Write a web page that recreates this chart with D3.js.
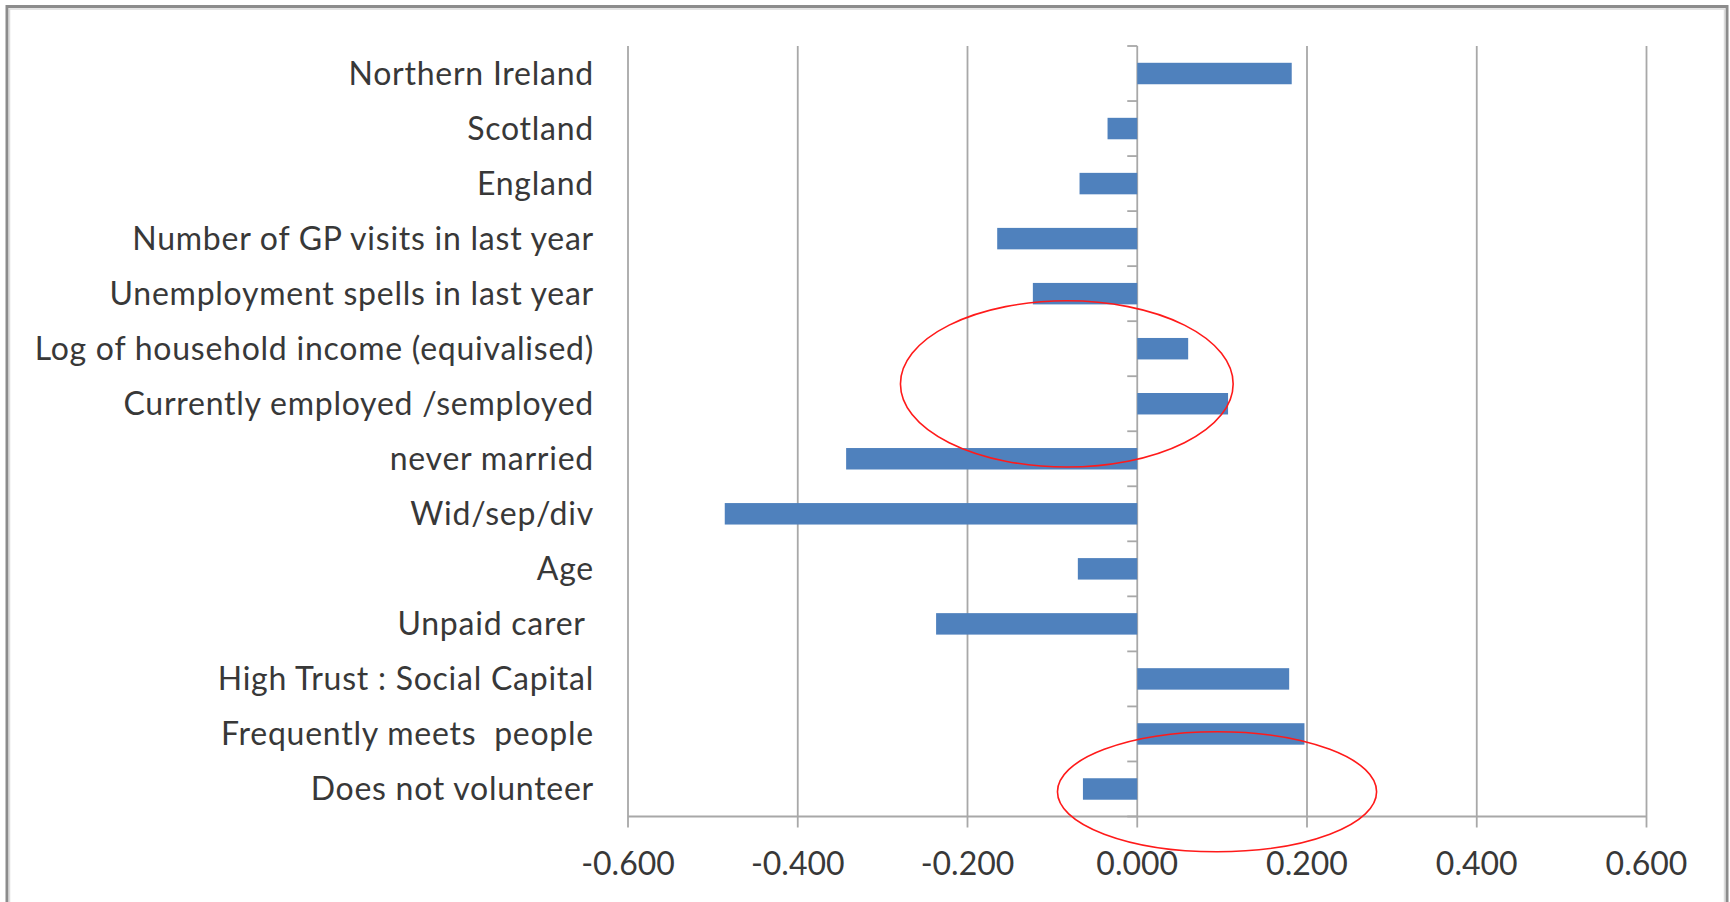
<!DOCTYPE html>
<html>
<head>
<meta charset="utf-8">
<script src="https://cdn.jsdelivr.net/npm/d3@7"></script>
<style>
  html, body { margin: 0; padding: 0; background: #ffffff; }
  svg { display: block; }
</style>
</head>
<body>
<svg id="chart" width="1730" height="902"></svg>
<script>
// Coefficients by predictor (top to bottom)
const categories = [
  "Northern Ireland",
  "Scotland",
  "England",
  "Number of GP visits in last year",
  "Unemployment spells in last year",
  "Log of household income (equivalised)",
  "Currently employed /semployed",
  "never married",
  "Wid/sep/div",
  "Age",
  "Unpaid carer ",
  "High Trust : Social Capital",
  "Frequently meets  people",
  "Does not volunteer"
];
const coefficients = [
  0.182, -0.035, -0.068, -0.165, -0.123, 0.060, 0.107,
  -0.343, -0.486, -0.070, -0.237, 0.179, 0.197, -0.064
];
const xTicks = [-0.6, -0.4, -0.2, 0.0, 0.2, 0.4, 0.6];

// Highlight ellipses: x extent in coefficient units, y extent in category slots
const highlights = [
  { x0: -0.279, x1: 0.113, s0: 4.63, s1: 7.65 },
  { x0: -0.094, x1: 0.282, s0: 12.46, s1: 14.64 }
];

const svg = d3.select("#chart");

const plotLeft = 628, plotRight = 1646.5, plotTop = 46, plotBottom = 816.5;

const x = d3.scaleLinear().domain([-0.6, 0.6]).range([plotLeft, plotRight]);
const y = d3.scaleBand().domain(categories).range([plotTop, plotBottom])
  .paddingInner(0.61).paddingOuter(0.305);
const step = (plotBottom - plotTop) / categories.length;
const slot = s => plotTop + s * step;

// Outer frame
svg.append("rect")
  .attr("x", 7).attr("y", 6.5).attr("width", 1720).attr("height", 910)
  .attr("fill", "none").attr("stroke", "#8c8c8c").attr("stroke-width", 3);
svg.append("rect")
  .attr("x", 9.5).attr("y", 9).attr("width", 1715).attr("height", 905)
  .attr("fill", "none").attr("stroke", "#dcdcdc").attr("stroke-width", 1.5);

const gridColor = "#a8a8a8";

// Vertical gridlines with tick marks below the axis
svg.append("g").selectAll("line").data(xTicks).join("line")
  .attr("x1", d => x(d)).attr("x2", d => x(d))
  .attr("y1", plotTop).attr("y2", plotBottom + 11)
  .attr("stroke", gridColor).attr("stroke-width", 1.8);

// Horizontal value axis line
svg.append("line")
  .attr("x1", x(-0.6)).attr("x2", x(0.6))
  .attr("y1", plotBottom).attr("y2", plotBottom)
  .attr("stroke", gridColor).attr("stroke-width", 1.8);

// Category axis ticks on the zero line
svg.append("g").selectAll("line").data(d3.range(categories.length + 1)).join("line")
  .attr("x1", x(0) - 10).attr("x2", x(0))
  .attr("y1", k => slot(k)).attr("y2", k => slot(k))
  .attr("stroke", gridColor).attr("stroke-width", 1.8);

// Bars
svg.append("g").selectAll("rect").data(categories).join("rect")
  .attr("x", (d, i) => Math.min(x(0), x(coefficients[i])))
  .attr("width", (d, i) => Math.abs(x(coefficients[i]) - x(0)))
  .attr("y", d => y(d))
  .attr("height", y.bandwidth())
  .attr("fill", "#4f81bd");

// Category labels
svg.append("g").selectAll("text").data(categories).join("text")
  .attr("x", 594)
  .attr("y", d => y(d) + y.bandwidth() / 2 + 11)
  .attr("text-anchor", "end")
  .style("white-space", "pre")
  .attr("font-family", "Lato, 'Open Sans', sans-serif")
  .attr("font-size", 32)
  .attr("letter-spacing", 0.75)
  .attr("fill", "#383838")
  .text(d => d);

// Value tick labels
svg.append("g").selectAll("text").data(xTicks).join("text")
  .attr("x", d => x(d))
  .attr("y", 875)
  .attr("text-anchor", "middle")
  .attr("font-family", "Lato, 'Open Sans', sans-serif")
  .attr("font-size", 32)
  .attr("fill", "#383838")
  .text(d => d3.format(".3f")(d).replace("−", "-"));

// Red highlight ellipses
svg.append("g").selectAll("ellipse").data(highlights).join("ellipse")
  .attr("cx", d => (x(d.x0) + x(d.x1)) / 2)
  .attr("cy", d => (slot(d.s0) + slot(d.s1)) / 2)
  .attr("rx", d => (x(d.x1) - x(d.x0)) / 2)
  .attr("ry", d => (slot(d.s1) - slot(d.s0)) / 2)
  .attr("fill", "none")
  .attr("stroke", "#ff1a1a")
  .attr("stroke-width", 1.6);
</script>
</body>
</html>
